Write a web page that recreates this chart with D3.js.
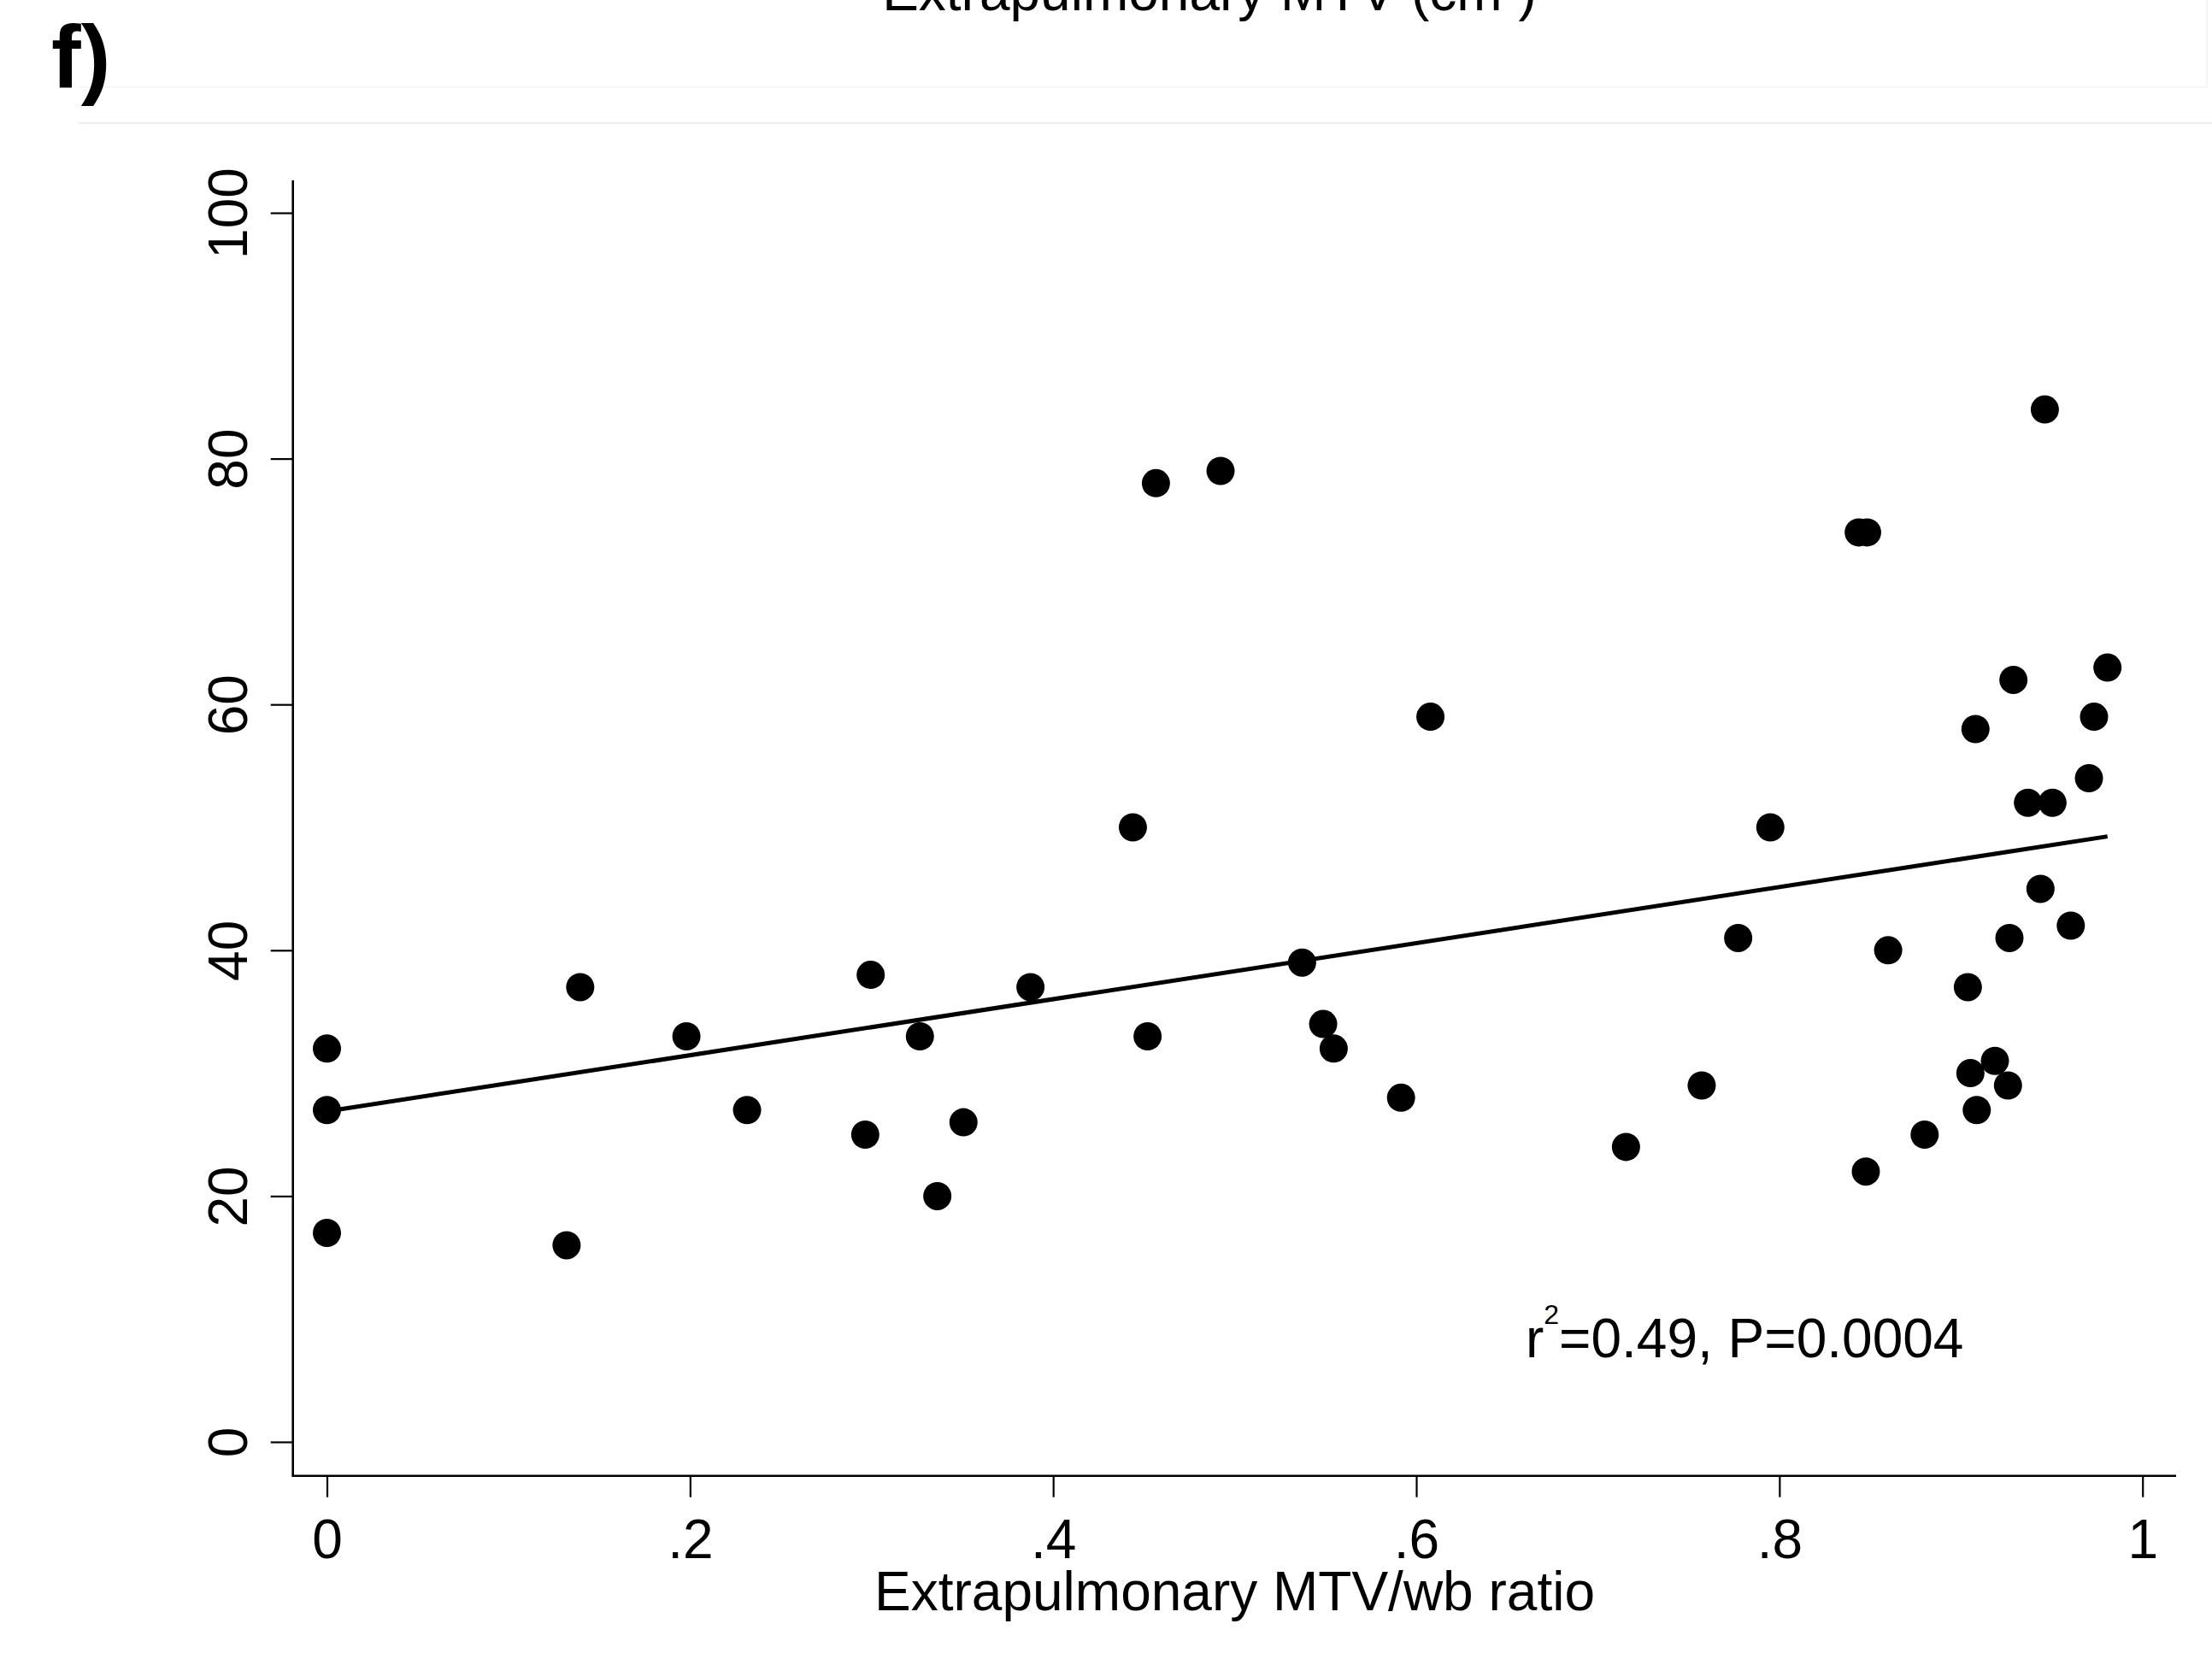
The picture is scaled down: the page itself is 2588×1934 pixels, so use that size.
<!DOCTYPE html>
<html>
<head>
<meta charset="utf-8">
<script src="https://cdn.jsdelivr.net/npm/d3@7"></script>
<style>
    body { margin: 0; background: #fff; }
    svg { display: block; font-family: "Liberation Sans", Arial, sans-serif; }
</style>
</head>
<body>
<div id="chart"></div>
<script>
// extrapulmonary MTV/wb ratio (x) vs value (y)
var ratio = [0, 0, 0, 0.132, 0.1395, 0.198, 0.2314, 0.2965, 0.2995, 0.3266, 0.3362, 0.3506,
    0.3875, 0.4439, 0.452, 0.4566, 0.4922, 0.5371, 0.5487, 0.5545, 0.5916, 0.6078,
    0.7155, 0.7572, 0.7773, 0.795, 0.8437, 0.8483, 0.8476, 0.8599, 0.880, 0.9038,
    0.9052, 0.9080, 0.9087, 0.9187, 0.9259, 0.9267, 0.9289, 0.9369, 0.9438, 0.9462,
    0.9504, 0.9605, 0.9705, 0.9733, 0.9807];
var value = [32, 27, 17, 16, 37, 33, 27, 25, 38, 33, 20, 26,
    37, 50, 33, 78, 79, 39, 34, 32, 28, 59,
    24, 29, 41, 50, 74, 74, 22, 40, 25, 37,
    30, 58, 27, 31, 29, 41, 62, 52, 45, 84,
    52, 42, 54, 59, 63];

// fitted line as drawn
var fitIntercept = 26.9;
var fitSlope = 22.8;

var xTicks = [0, 0.2, 0.4, 0.6, 0.8, 1];
var xTickLabels = ['0', '.2', '.4', '.6', '.8', '1'];
var yTicks = [0, 20, 40, 60, 80, 100];

var xTitle = 'Extrapulmonary MTV/wb ratio';
var topTitle = 'Extrapulmonary MTV (cm';
var annotation = '=0.49, P=0.0004';

var W = 2588, H = 1934;
var plotLeft = 342.7, plotRight = 2546, plotTop = 211, plotBottom = 1726.7;

var svg = d3.select('#chart').append('svg')
    .attr('width', W)
    .attr('height', H);

svg.append('rect').attr('width', W).attr('height', H).attr('fill', '#fff');

// faint panel borders left over from the figure above
svg.append('path')
    .attr('d', 'M92,102 H2582 V0')
    .attr('fill', 'none')
    .attr('stroke', '#f2f4f4')
    .attr('stroke-width', 1.5);
svg.append('line')
    .attr('x1', 92).attr('x2', W)
    .attr('y1', 144).attr('y2', 144)
    .attr('stroke', '#e8eeee')
    .attr('stroke-width', 2);

// x title of the panel above (cut off at the top)
var tt = svg.append('text')
    .attr('x', 1415)
    .attr('y', 12)
    .attr('text-anchor', 'middle')
    .attr('font-size', 64)
    .text(topTitle);
tt.append('tspan').attr('font-size', 34).attr('dy', -30).text('3');
tt.append('tspan').attr('dy', 30).text(')');

svg.append('text')
    .attr('x', 60)
    .attr('y', 102)
    .attr('font-size', 104)
    .attr('font-weight', 'bold')
    .text('f)');

var x = d3.scaleLinear().domain([0, 1]).range([382.5, 2506.7]);
var y = d3.scaleLinear().domain([0, 100]).range([1687, 249]);

// axes
var gx = svg.append('g')
    .attr('transform', `translate(0,${plotBottom})`)
    .call(d3.axisBottom(x)
        .tickValues(xTicks)
        .tickFormat((d, i) => xTickLabels[i])
        .tickSize(25));
gx.select('.domain').remove();
gx.selectAll('.tick line').attr('stroke', '#000').attr('stroke-width', 2.2);
gx.selectAll('.tick text')
    .attr('y', 96)
    .attr('dy', 0)
    .attr('font-size', 64)
    .attr('font-family', '"Liberation Sans", Arial, sans-serif')
    .attr('fill', '#000');

var gy = svg.append('g')
    .attr('transform', `translate(${plotLeft},0)`)
    .call(d3.axisLeft(y)
        .tickValues(yTicks)
        .tickSize(26));
gy.select('.domain').remove();
gy.selectAll('.tick line').attr('stroke', '#000').attr('stroke-width', 2.2);
gy.selectAll('.tick text')
    .attr('x', 0)
    .attr('y', 0)
    .attr('dy', 0)
    .attr('text-anchor', 'middle')
    .attr('transform', 'translate(-54,0) rotate(-90)')
    .attr('font-size', 64)
    .attr('font-family', '"Liberation Sans", Arial, sans-serif')
    .attr('fill', '#000');

svg.append('line')
    .attr('x1', plotLeft).attr('x2', plotLeft)
    .attr('y1', plotTop).attr('y2', plotBottom + 1)
    .attr('stroke', '#000').attr('stroke-width', 2.6);
svg.append('line')
    .attr('x1', plotLeft - 1).attr('x2', plotRight)
    .attr('y1', plotBottom).attr('y2', plotBottom)
    .attr('stroke', '#000').attr('stroke-width', 2.6);

// points
var points = ratio.map((r, i) => ({ r: r, v: value[i] }));
svg.append('g')
    .selectAll('circle')
    .data(points)
    .enter()
    .append('circle')
    .attr('cx', d => x(d.r))
    .attr('cy', d => y(d.v))
    .attr('r', 16.5)
    .attr('fill', '#000');

// fitted line
var xMax = d3.max(ratio);
var fit = [0, xMax].map(r => ({ r: r, v: fitIntercept + fitSlope * r }));
svg.append('path')
    .datum(fit)
    .attr('d', d3.line().x(d => x(d.r)).y(d => y(d.v)))
    .attr('fill', 'none')
    .attr('stroke', '#000')
    .attr('stroke-width', 5);

// annotation
var ann = svg.append('text')
    .attr('x', 1785)
    .attr('y', 1588)
    .attr('font-size', 64)
    .text('r');
ann.append('tspan').attr('font-size', 32).attr('dy', -39).text('2');
ann.append('tspan').attr('dy', 39).text(annotation);

svg.append('text')
    .attr('x', 1444.5)
    .attr('y', 1884)
    .attr('text-anchor', 'middle')
    .attr('font-size', 64)
    .text(xTitle);
</script>
</body>
</html>
